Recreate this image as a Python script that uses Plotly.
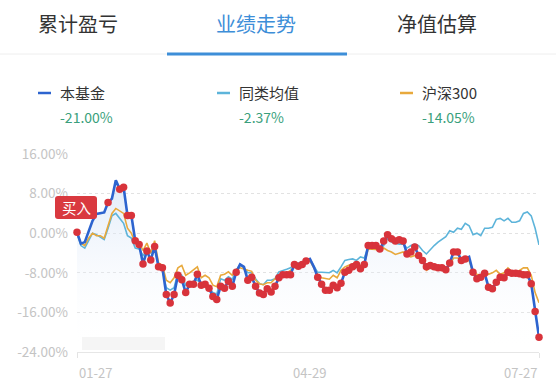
import plotly.graph_objects as go

# ---- data (percent returns, trading-day index) ----
fund = [0.2, -2.1, -1.8, 0.5, 2.5, 3.9, 4.0, 4.2, 6.2, 7.0,
        10.7, 8.9, 9.3, 3.6, 3.6, -1.5, -2.3, -6.2, -3.6, -5.4,
        -2.7, -6.8, -7.0, -12.4, -14.1, -12.4, -8.5, -9.4, -12.0, -10.3,
        -10.3, -8.3, -10.5, -10.3, -11.1, -12.8, -13.4, -10.7, -11.1, -9.7,
        -10.7, -7.9, -6.3, -6.8, -9.5, -8.9, -10.7, -12.1, -12.4, -11.2,
        -11.9, -10.7, -9.0, -8.4, -8.4, -8.4, -6.3, -6.7, -6.3, -5.6,
        -5.2, -6.8, -8.9, -10.3, -11.5, -11.5, -10.5, -11.0, -10.1, -7.9,
        -7.5, -6.8, -6.3, -7.2, -6.3, -2.5, -2.5, -2.5, -3.2, -1.6,
        -0.3, -1.1, -1.6, -1.3, -1.6, -4.2, -3.8, -2.8, -4.5, -5.5,
        -6.8, -6.5, -6.8, -7.0, -7.0, -7.4, -6.0, -3.8, -3.8, -5.5,
        -5.2, -4.8, -7.9, -9.2, -8.9, -8.1, -10.9, -11.2, -9.9, -8.9,
        -9.0, -7.9, -8.1, -8.1, -8.2, -8.4, -8.4, -10.2, -15.8, -21.0]

peer = [0.0, -2.5, -3.0, -1.5, 0.0, -0.3, -0.8, -1.3, 1.0, 3.5,
        4.0, 3.0, 2.0, -0.5, -1.0, -3.0, -3.2, -4.5, -3.5, -4.0,
        -3.0, -6.5, -7.5, -11.0, -11.5, -11.0, -8.0, -8.5, -10.5, -10.0,
        -9.8, -9.5, -10.0, -10.2, -11.0, -12.0, -12.3, -9.2, -9.5, -8.8,
        -9.3, -7.5, -6.3, -7.0, -8.0, -8.0, -9.2, -10.2, -10.4, -9.5,
        -9.5, -9.2, -7.8, -7.6, -7.3, -7.0, -6.3, -6.0, -5.8, -5.3,
        -5.2, -6.6, -7.9, -7.9, -8.0, -8.0, -7.5, -8.0, -6.8, -5.5,
        -5.3, -5.2, -5.5, -4.8, -5.0, -2.8, -2.7, -3.0, -3.5, -2.5,
        -1.0, -1.8, -2.0, -2.2, -2.2, -3.0, -2.5, -2.2, -2.5, -3.5,
        -4.2, -3.3, -2.5, -1.8, -1.2, -0.7, 0.5, 0.2, 1.0, 0.8,
        2.0, 1.5, -0.3, 0.0, -0.5, 1.0, 1.0, 1.2, 2.8, 3.0,
        2.5, 3.0, 2.2, 2.2, 2.5, 4.0, 4.3, 3.5, 1.0, -2.37]

hs300 = [0.0, -2.0, -2.5, -1.0, 0.0, -0.5, -0.5, -1.0, 1.5, 4.0,
         5.0, 4.5, 4.0, 1.0, 0.0, -2.0, -1.8, -3.5, -2.0, -4.0,
         -1.5, -6.0, -6.5, -9.5, -10.0, -9.0, -7.0, -6.5, -8.5, -8.0,
         -7.3, -6.8, -9.0, -8.5, -9.0, -10.5, -10.8, -8.5, -8.3, -7.8,
         -8.5, -7.3, -7.0, -7.3, -7.5, -7.7, -9.5, -10.2, -10.4, -10.0,
         -10.0, -9.2, -8.5, -8.2, -8.0, -7.5, -6.8, -6.8, -6.5, -5.8,
         -5.6, -7.0, -8.4, -9.0, -9.2, -9.3, -8.5, -9.0, -7.5, -6.8,
         -6.5, -6.3, -6.0, -6.5, -6.2, -3.2, -3.2, -3.3, -3.6, -3.0,
         -3.5, -3.8, -4.3, -4.0, -3.8, -4.5, -4.8, -4.5, -5.0, -5.5,
         -7.5, -7.0, -7.3, -7.3, -7.5, -7.2, -6.5, -5.0, -5.0, -5.2,
         -5.5, -5.5, -8.0, -8.3, -8.5, -7.8, -8.3, -8.0, -7.5, -8.3,
         -8.0, -7.0, -7.8, -8.0, -7.5, -7.0, -7.0, -8.5, -12.0, -14.05]

days = list(range(len(fund)))
no_trade = {1, 2, 3, 4, 5, 6, 7, 9, 10, 42, 43, 60, 61, 101}
trade_days = [d for d in days if d not in no_trade]

x_tick_idx = [0, 60, len(fund) - 1]
x_tick_text = ["01-27", "04-29", "07-27"]
y_ticks = [16, 8, 0, -8, -16, -24]
y_tick_text = ["16.00%", "8.00%", "0.00%", "-8.00%", "-16.00%", "-24.00%"]

tabs = ["累计盈亏", "业绩走势", "净值估算"]
series_names = ["本基金", "同类均值", "沪深300"]
series_final = ["-21.00%", "-2.37%", "-14.05%"]

# ---- styles ----
C_FUND = "#2d64cf"
C_PEER = "#5db4da"
C_HS = "#e8a93c"
C_DOT = "#d8333b"
C_GREEN = "#3a9f7c"
FONT = "Noto Sans CJK SC"

fig = go.Figure()

# baseline for area fill
fig.add_trace(go.Scatter(x=days, y=[-24] * len(days), mode="lines",
                         line=dict(width=0), hoverinfo="skip", showlegend=False))
fig.add_trace(go.Scatter(x=days, y=fund, mode="lines", line=dict(width=0),
                         fill="tonexty",
                         fillgradient=dict(type="vertical",
                                           colorscale=[[0, "rgba(255,255,255,0)"],
                                                       [1, "rgba(205,222,245,0.6)"]]),
                         hoverinfo="skip", showlegend=False))

fig.add_trace(go.Scatter(x=days, y=peer, mode="lines",
                         line=dict(color=C_PEER, width=1.6), showlegend=False))
fig.add_trace(go.Scatter(x=days, y=hs300, mode="lines",
                         line=dict(color=C_HS, width=1.6), showlegend=False))
fig.add_trace(go.Scatter(x=days, y=fund, mode="lines",
                         line=dict(color=C_FUND, width=2.6), showlegend=False))
fig.add_trace(go.Scatter(x=trade_days, y=[fund[d] for d in trade_days], mode="markers",
                         marker=dict(color=C_DOT, size=7.5), cliponaxis=False,
                         showlegend=False))

fig.update_xaxes(range=[0, len(fund) - 1], showgrid=False, zeroline=False,
                 showline=True, linecolor="#e6e6e6", linewidth=1,
                 tickvals=[0, len(fund) - 1], ticks="outside", ticklen=5,
                 tickcolor="#e3e3e3", showticklabels=False)
fig.update_yaxes(range=[-24, 16], tickvals=y_ticks, ticktext=y_tick_text,
                 showgrid=True, gridcolor="#e2e2e2", griddash="dot", gridwidth=1,
                 zeroline=False, showline=False, ticks="",
                 tickfont=dict(family=FONT, size=13.5, color="#c4c4c4"),
                 ticklabelstandoff=8)

L, R, T, B = 77, 17, 154, 37
W, H = 556, 389
pw, ph = W - L - R, H - T - B

def px(xp):
    return (xp - L) / pw

def py(yp):
    return (H - B - yp) / ph

annotations = []
tab_x = [78, 256, 437]
for i, (t, xx) in enumerate(zip(tabs, tab_x)):
    annotations.append(dict(x=px(xx), y=py(23), xref="paper", yref="paper", text=t,
                            showarrow=False, xanchor="center", yanchor="middle",
                            font=dict(family=FONT, size=20,
                                      color="#3d8ed8" if i == 1 else "#333333")))

leg_x = [58, 237, 420]
leg_col = [C_FUND, C_PEER, C_HS]
shapes = []
for name, val, xx, col in zip(series_names, series_final, leg_x, leg_col):
    annotations.append(dict(x=px(xx), y=py(93), xref="paper", yref="paper", text=name,
                            showarrow=False, xanchor="left", yanchor="middle",
                            font=dict(family=FONT, size=15, color="#333333")))
    annotations.append(dict(x=px(xx), y=py(117), xref="paper", yref="paper", text=val,
                            showarrow=False, xanchor="left", yanchor="middle",
                            font=dict(family=FONT, size=14, color=C_GREEN)))
    shapes.append(dict(type="line", xref="paper", yref="paper",
                       x0=px(xx - 20), x1=px(xx - 7), y0=py(93), y1=py(93),
                       line=dict(color=col, width=2.5)))

# x tick labels
anchors = ["left", "center", "right"]
for idx, txt, anc in zip(x_tick_idx, x_tick_text, anchors):
    annotations.append(dict(x=idx, y=py(372), xref="x", yref="paper", text=txt,
                            showarrow=False, xanchor=anc, yanchor="middle",
                            font=dict(family=FONT, size=13, color="#c4c4c4")))

# 买入 label (rounded box)
x0, x1, y0, y1, r = px(55), px(97), py(219), py(196), 3
rx, ry = r / pw, r / ph
path = (f"M {x0+rx},{y0} L {x1-rx},{y0} Q {x1},{y0} {x1},{y0+ry} "
        f"L {x1},{y1-ry} Q {x1},{y1} {x1-rx},{y1} L {x0+rx},{y1} "
        f"Q {x0},{y1} {x0},{y1-ry} L {x0},{y0+ry} Q {x0},{y0} {x0+rx},{y0} Z")
shapes.append(dict(type="path", xref="paper", yref="paper", path=path,
                   fillcolor="#d9393f", line=dict(width=0), layer="above"))
annotations.append(dict(x=px(76), y=py(207.5), xref="paper", yref="paper", text="买入",
                        showarrow=False, xanchor="center", yanchor="middle",
                        font=dict(family=FONT, size=14.5, color="white")))

# tab separator and active underline
shapes.append(dict(type="line", xref="paper", yref="paper", x0=px(0), x1=px(W),
                   y0=py(54), y1=py(54), line=dict(color="#eeeeee", width=1)))
shapes.append(dict(type="line", xref="paper", yref="paper", x0=px(167), x1=px(347),
                   y0=py(54), y1=py(54), line=dict(color="#3d8ed8", width=3)))

# faint blurred watermark block
shapes.append(dict(type="rect", xref="paper", yref="paper",
                   x0=px(82), x1=px(165), y0=py(350), y1=py(337),
                   fillcolor="#f5f5f5", line=dict(width=0), layer="above"))

fig.update_layout(width=W, height=H, margin=dict(l=L, r=R, t=T, b=B),
                  paper_bgcolor="white", plot_bgcolor="white",
                  annotations=annotations, shapes=shapes,
                  font=dict(family=FONT), hovermode=False)

fig.write_html("out.html")
